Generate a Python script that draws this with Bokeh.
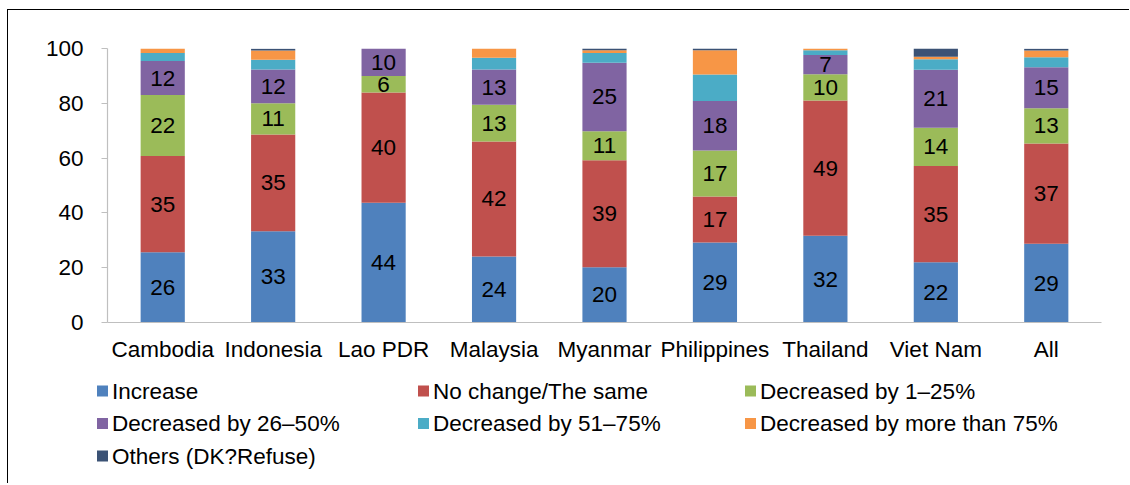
from bokeh.plotting import figure
from bokeh.layouts import column
from bokeh.models import ColumnDataSource, FactorRange, Range1d, FixedTicker
from bokeh.core.properties import value
from bokeh.embed import file_html
from bokeh.resources import INLINE

categories = ["Cambodia", "Indonesia", "Lao PDR", "Malaysia", "Myanmar",
              "Philippines", "Thailand", "Viet Nam", "All"]
series_names = ["Increase", "No change/The same", "Decreased by 1–25%",
                "Decreased by 26–50%", "Decreased by 51–75%",
                "Decreased by more than 75%", "Others (DK?Refuse)"]

increase  = [25.6, 33.3, 43.7, 24.1, 20.2, 29.2, 31.7, 22.0, 28.7]
no_change = [35.2, 35.3, 40.2, 42.0, 39.0, 16.8, 49.3, 35.1, 36.6]
dec_1_25  = [22.2, 11.4, 6.1, 13.4, 10.6, 16.8, 9.6, 14.0, 12.9]
dec_26_50 = [12.4, 12.3, 10.0, 12.8, 25.0, 18.0, 7.0, 21.1, 15.0]
dec_51_75 = [3.0, 3.6, 0.0, 4.3, 3.6, 9.7, 1.8, 3.9, 3.6]
dec_75    = [1.6, 3.4, 0.0, 3.4, 1.0, 8.9, 0.6, 0.9, 2.5]
others    = [0.0, 0.6, 0.0, 0.3, 0.6, 0.6, 0.0, 3.0, 0.6]

y_ticks = [0, 20, 40, 60, 80, 100]
colors = ["#4F81BD", "#C0504D", "#9BBB59", "#8064A2", "#4BACC6", "#F79646", "#3B5275"]
labeled_series = 4

series = [increase, no_change, dec_1_25, dec_26_50, dec_51_75, dec_75, others]
keys = ["s%d" % i for i in range(len(series))]

data = {"cat": categories}
for k, s in zip(keys, series):
    data[k] = s
source = ColumnDataSource(data)

FONT = "Liberation Sans"
FS = "22.5px"

# ---------------- main chart ----------------
p = figure(x_range=FactorRange(factors=categories, range_padding=0),
           y_range=Range1d(0, 100),
           width=1121, height=361,
           output_backend="svg", toolbar_location=None,
           min_border_left=99, min_border_right=28,
           min_border_top=38, min_border_bottom=49)
p.frame_align = False

p.vbar_stack(keys, x="cat", width=0.4, color=colors, source=source, line_color=None)

# segment value labels (first four series)
lx, ly, lt = [], [], []
for i, cat in enumerate(categories):
    bottom = 0.0
    for j, s in enumerate(series):
        v = s[i]
        if j < labeled_series:
            lx.append(cat)
            ly.append(bottom + v / 2.0)
            lt.append(str(int(round(v))))
        bottom += v
p.text(x=lx, y=ly, text=lt, text_align="center", text_baseline="middle",
       text_font=value(FONT), text_font_size=FS, text_color="#000000")

p.xgrid.grid_line_color = None
p.ygrid.grid_line_color = None
p.outline_line_color = None
p.background_fill_color = "white"
p.border_fill_color = "white"

for ax in (p.xaxis[0], p.yaxis[0]):
    ax.axis_line_color = "#BFBFBF"
    ax.axis_line_width = 1.2
    ax.major_label_text_font = FONT
    ax.major_label_text_font_size = FS
    ax.major_label_text_color = "#000000"
    ax.minor_tick_line_color = None

p.yaxis.ticker = FixedTicker(ticks=y_ticks)
p.yaxis.major_tick_line_color = "#BFBFBF"
p.yaxis.major_tick_in = 0
p.yaxis.major_tick_out = 6
p.yaxis.major_label_standoff = 18

p.xaxis.major_tick_line_color = None
p.xaxis.major_tick_in = 0
p.xaxis.major_tick_out = 0
p.xaxis.major_label_standoff = 14

# ---------------- legend panel (3 columns, row-major) ----------------
LW, LH = 1121, 112
leg = figure(width=LW, height=LH, x_range=Range1d(0, LW), y_range=Range1d(LH, 0),
             output_backend="svg", toolbar_location=None,
             min_border=0, min_border_left=0, min_border_right=0,
             min_border_top=0, min_border_bottom=0)
leg.frame_align = False
leg.axis.visible = False
leg.xgrid.grid_line_color = None
leg.ygrid.grid_line_color = None
leg.outline_line_color = None
leg.border_fill_color = "white"
leg.background_fill_color = "white"

col_left = [88.5, 409.5, 736.5]   # marker left edges (px)
row_top = 19.5                    # first row centre (px)
row_step = 32.5
box = 11
mx, my, tx = [], [], []
for i, name in enumerate(series_names):
    r, c = divmod(i, 3)
    mx.append(col_left[c] + box / 2.0)
    my.append(row_top + r * row_step)
    tx.append(col_left[c] + box + 4)
leg.rect(x=mx, y=my, width=box, height=box, color=colors, line_color=None)
leg.text(x=tx, y=my, text=series_names, text_baseline="middle", text_align="left",
         text_font=value(FONT), text_font_size=FS, text_color="#000000")

layout = column(p, leg, spacing=0,
                styles={"margin-left": "7px", "margin-top": "9px",
                        "border-left": "1.5px solid #000",
                        "border-top": "1.5px solid #000"})

open("out.html", "w").write(file_html(layout, INLINE))
